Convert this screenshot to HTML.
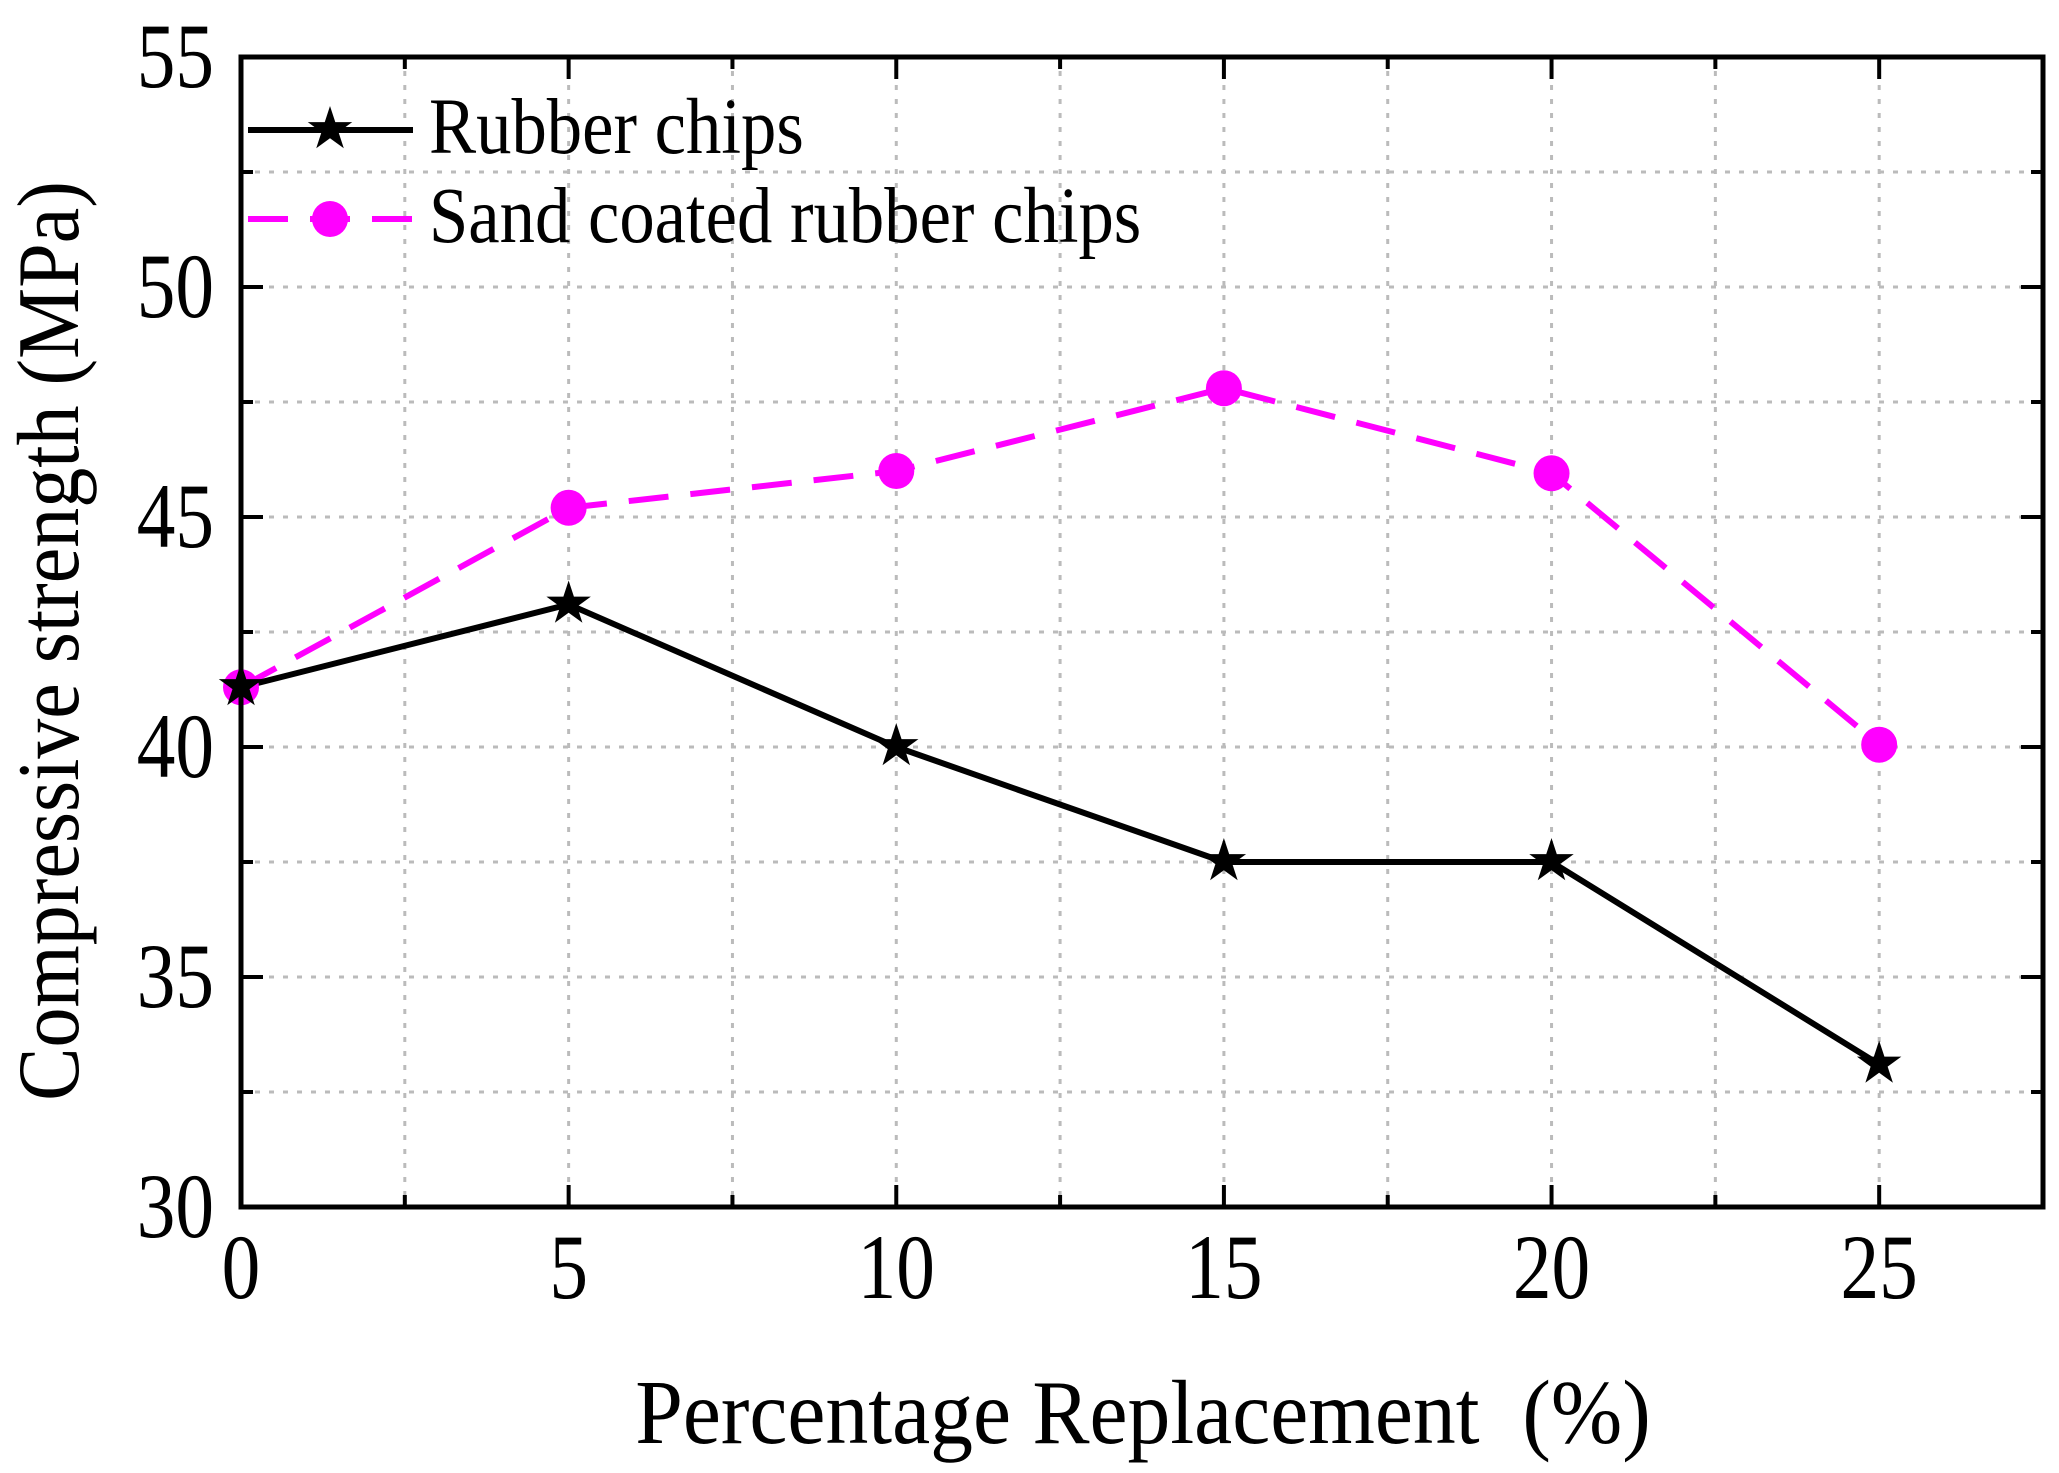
<!DOCTYPE html>
<html><head><meta charset="utf-8"><style>
html,body{margin:0;padding:0;background:#fff;}
svg{display:block;font-family:"Liberation Serif",serif;}
</style></head><body>
<svg id="chart" width="2059" height="1473" viewBox="0 0 2059 1473" xmlns="http://www.w3.org/2000/svg">
<g id="grid"></g>
<g id="series"></g>
<rect x="241" y="57" width="1802" height="1150" fill="none" stroke="#000" stroke-width="5"/>
<g id="ticks"></g>
<text x="0" y="0" font-size="84" text-anchor="middle" xml:space="preserve" style="white-space:pre" transform="translate(1143,1443) scale(1.02,1.08)">Percentage Replacement  (%)</text>
<text transform="translate(78,641) rotate(-90) scale(1,1.1)" font-size="80" text-anchor="middle">Compressive strength (MPa)</text>
<g>
<line x1="248" y1="130" x2="413" y2="130" stroke="#000" stroke-width="6"/>
<text x="330" y="148" font-size="58" text-anchor="middle">★</text>
<text x="0" y="0" font-size="76" transform="translate(429,153) scale(0.93,1.05)">Rubber chips</text>
<line x1="248" y1="219" x2="413" y2="219" stroke="#f0f" stroke-width="6" stroke-dasharray="40,22"/>
<circle cx="330" cy="219" r="18" fill="#f0f"/>
<text x="0" y="0" font-size="76" transform="translate(429,242) scale(0.93,1.05)">Sand coated rubber chips</text>
</g>
</svg>
<script>
const categories = [0, 5, 10, 15, 20, 25];
const rubberValues = [41.3, 43.1, 40.0, 37.5, 37.5, 33.1];
const sandValues = [41.3, 45.2, 46.0, 47.8, 45.95, 40.05];
const xTickLabels = ["0", "5", "10", "15", "20", "25"];
const yTickLabels = ["30", "35", "40", "45", "50", "55"];

const NS = "http://www.w3.org/2000/svg";
const L = 241, R = 2043, T = 57, B = 1207;
const xMin = 0, xMax = 27.5, yMin = 30, yMax = 55;
function sx(v){ return L + (v - xMin) / (xMax - xMin) * (R - L); }
function sy(v){ return B - (v - yMin) / (yMax - yMin) * (B - T); }
function mk(tag, attrs, parent){ const e = document.createElementNS(NS, tag); for (const k in attrs) e.setAttribute(k, attrs[k]); parent.appendChild(e); return e; }

const grid = document.getElementById("grid");
const ticks = document.getElementById("ticks");
for (let v = 2.5; v < xMax; v += 2.5) {
  const g = mk("line", {x1: sx(v), x2: sx(v), y1: T, y2: B, stroke: "#bbb", "stroke-width": 3, "stroke-dasharray": "5,9"}, grid);
  
  
  const major = Math.abs(v % 5) < 1e-6;
  const len = major ? 22 : 12;
  const t1 = mk("line", {x1: sx(v), x2: sx(v), y1: B, y2: B - len, stroke: "#000", "stroke-width": 4}, ticks);
  
  
  const t2 = mk("line", {x1: sx(v), x2: sx(v), y1: T, y2: T + len, stroke: "#000", "stroke-width": 4}, ticks);
  
  
}
for (let v = 32.5; v < yMax; v += 2.5) {
  const g = mk("line", {x1: L, x2: R, y1: sy(v), y2: sy(v), stroke: "#bbb", "stroke-width": 3, "stroke-dasharray": "5,9"}, grid);
  
  
  const major = Math.abs(v % 5) < 1e-6;
  const len = major ? 22 : 12;
  const t1 = mk("line", {x1: L, x2: L + len, y1: sy(v), y2: sy(v), stroke: "#000", "stroke-width": 4}, ticks);
  
  
  const t2 = mk("line", {x1: R, x2: R - len, y1: sy(v), y2: sy(v), stroke: "#000", "stroke-width": 4}, ticks);
  
  
}
xTickLabels.forEach((s, i) => {
  const t = mk("text", {x: 0, y: 0, "font-size": 92, "text-anchor": "middle", transform: "translate(" + sx(categories[i]) + ",1298) scale(0.84,1)"}, ticks);
  t.textContent = s;
  
  
});
yTickLabels.forEach((s) => {
  const t = mk("text", {x: 0, y: 0, "font-size": 92, "text-anchor": "end", transform: "translate(214," + (sy(+s) + 30) + ") scale(0.84,1)"}, ticks);
  t.textContent = s;
  
  
});

const series = document.getElementById("series");
const sandPts = categories.map((c, i) => sx(c) + "," + sy(sandValues[i])).join(" ");
const sl = mk("polyline", {points: sandPts, fill: "none", stroke: "#f0f", "stroke-width": 6, "stroke-dasharray": "40,22"}, series);


const rubPts = categories.map((c, i) => sx(c) + "," + sy(rubberValues[i])).join(" ");
const rl = mk("polyline", {points: rubPts, fill: "none", stroke: "#000", "stroke-width": 6}, series);


categories.forEach((c, i) => {
  const d = mk("circle", {cx: sx(c), cy: sy(sandValues[i]), r: 18, fill: "#f0f"}, series);
  
  
});
categories.forEach((c, i) => {
  const s = mk("text", {x: sx(c), y: sy(rubberValues[i]) + 18, "font-size": 58, "text-anchor": "middle"}, series);
  s.textContent = "★";
  
  
});
</script>
</body></html>
